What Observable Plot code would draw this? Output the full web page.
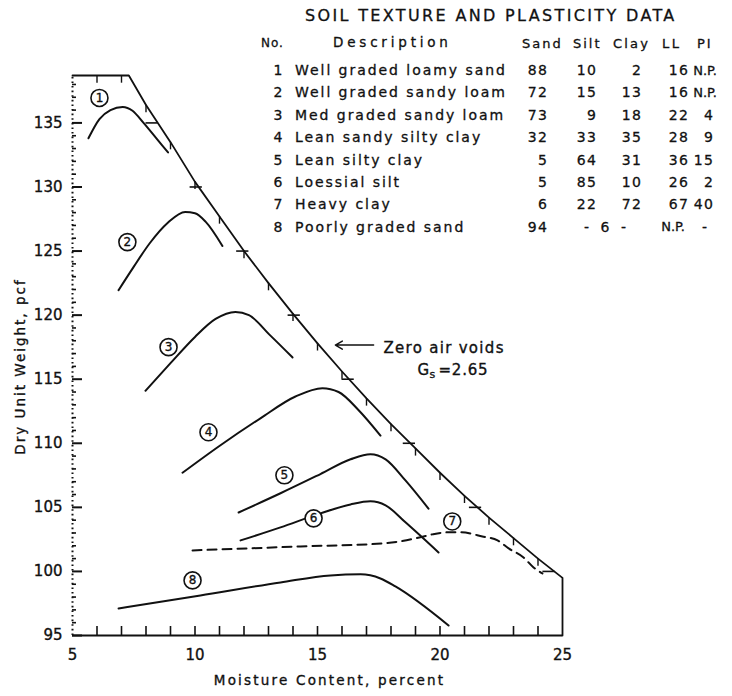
<!DOCTYPE html>
<html><head><meta charset="utf-8">
<script src="https://cdn.jsdelivr.net/npm/d3@7"></script>
<script src="https://cdn.jsdelivr.net/npm/@observablehq/plot@0.6"></script>
<style>
body{margin:0;background:#fff;}
#wrap{position:relative;width:732px;height:696px;overflow:hidden;font-family:"DejaVu Sans",sans-serif;color:#111;background:#fff;}
#wrap svg{position:absolute;left:0;top:0;}
#wrap svg text{stroke:#111;stroke-width:0.35px;}
.t{position:absolute;white-space:nowrap;line-height:1;-webkit-text-stroke:0.3px #111;}
</style></head><body><div id="wrap"></div>
<script>
// ---------- table data ----------
const tableTitle = "SOIL TEXTURE AND PLASTICITY DATA";
const tableHeaders = ["No.", "Description", "Sand", "Silt", "Clay", "LL", "PI"];
const soilNo = ["1", "2", "3", "4", "5", "6", "7", "8"];
const descriptions = ["Well graded loamy sand", "Well graded sandy loam", "Med graded sandy loam",
  "Lean sandy silty clay", "Lean silty clay", "Loessial silt", "Heavy clay", "Poorly graded sand"];
const sand = ["88", "72", "73", "32", "5", "5", "6", "94"];
const silt = ["10", "15", "9", "33", "64", "85", "22", "- 6 -"];
const clay = ["2", "13", "18", "35", "31", "10", "72", ""];
const liquidLimit = ["16", "16", "22", "28", "36", "26", "67", "N.P."];
const plasticityIndex = ["N.P.", "N.P.", "4", "9", "15", "2", "40", "-"];

// ---------- axes ----------
const xTickLabels = [5, 10, 15, 20, 25];
const xMinorTicks = [6, 7, 8, 9, 10, 11, 12, 13, 14, 15, 16, 17, 18, 19, 20, 21, 22, 23, 24];
const yTickLabels = [95, 100, 105, 110, 115, 120, 125, 130, 135];
const yMinorTicks = [96, 97, 98, 99, 101, 102, 103, 104, 106, 107, 108, 109, 111, 112, 113, 114,
  116, 117, 118, 119, 121, 122, 123, 124, 126, 127, 128, 129, 131, 132, 133, 134, 136, 137, 138];
const frameTop = 138.7;
const xTitle = "Moisture Content, percent";
const yTitle = "Dry Unit Weight, pcf";

// ---------- zero air voids (Gs = 2.65) ----------
const zavMoisture = [7.3, 8, 9, 10, 11, 12, 13, 14, 15, 16, 17, 18, 19, 20, 21, 22, 23, 24, 25];
const zavDensity = [138.7, 136.4, 133.5, 130.4, 127.7, 125.0, 122.5, 120.1, 117.8, 115.6, 113.5,
  111.5, 109.6, 107.7, 105.9, 104.2, 102.6, 101.0, 99.5];
const zavMarkDensity = [135, 130, 125, 120, 115, 110, 105, 100];
const zavMarkMoisture = [8.5, 10.3, 12.2, 14.3, 16.5, 19.0, 21.7, 24.7];
const topTickMoisture = [6, 7];

// ---------- compaction curves [moisture %, dry unit weight pcf] ----------
const curve1 = [[5.65,133.8],[6.1,135.3],[6.55,136.0],[7.05,136.25],[7.45,135.95],[7.9,135.0],[8.4,133.85],[8.9,132.7]];
const curve2 = [[6.88,121.95],[7.49,123.75],[8.16,125.63],[8.88,127.19],[9.6,128.05],[10.0,127.95],[10.43,127.3],[11.12,125.4]];
const curve3 = [[7.98,114.1],[9.0,116.25],[10.0,118.3],[10.84,119.7],[11.65,120.25],[12.2,120.0],[13.08,118.4],[13.98,116.7]];
const curve4 = [[9.49,107.7],[11.04,109.85],[12.67,111.95],[14.1,113.65],[15.2,114.3],[15.86,114.0],[16.67,112.6],[17.57,110.6]];
const curve5 = [[11.78,104.6],[13.49,106.1],[15.12,107.6],[16.35,108.75],[17.16,109.15],[17.78,108.75],[18.59,107.1],[19.53,104.9]];
const curve6 = [[11.86,102.42],[13.49,103.44],[15.12,104.53],[16.35,105.23],[17.16,105.47],[17.78,105.16],[18.59,103.83],[19.94,101.48]];
const curve7 = [[9.9,101.64],[14.31,101.95],[17.69,102.19],[19.2,102.66],[19.69,102.89],[20.31,103.05],[20.84,103.05],[21.73,102.73],[22.35,102.42],[22.8,101.8],[23.41,101.09],[23.82,100.31],[24.18,99.84]];
const curve8 = [[6.88,97.11],[10.22,98.13],[13.49,99.14],[15.53,99.69],[16.76,99.77],[17.57,99.45],[18.18,98.83],[20.35,95.78]];

// ---------- curve labels ----------
const labelNumber = ["1", "2", "3", "4", "5", "6", "7", "8"];
const labelMoisture = [6.1, 7.24, 8.92, 10.55, 13.65, 14.84, 20.5, 9.9];
const labelDensity = [136.95, 125.7, 117.5, 110.86, 107.5, 104.14, 103.9, 99.3];

// ---------- annotation ----------
const zavText = ["Zero air voids", "G", "s", "=2.65"];
const zavTextMoisture = [17.69, 19.08, 19.08, 19.08];
const zavTextDensity = [117.42, 115.7, 115.7, 115.7];
const zavArrow = {from: [17.29, 117.66], to: [15.73, 117.66]};

// ---------- build ----------
const toPts = (arr) => arr.map(([x, y]) => ({x, y}));
const boundary = [{x: 5, y: frameTop}, ...zavMoisture.map((x, i) => ({x, y: zavDensity[i]})), {x: 25, y: 95}];
const boundaryTicks = [
  ...topTickMoisture.map(x => ({x, y: frameTop})),
  ...zavMoisture.map((x, i) => ({x, y: zavDensity[i]})).filter(d => Number.isInteger(d.x) && d.x > 7 && d.x < 25)
];
const zavMarks = zavMarkDensity.map((y, i) => ({y, x: zavMarkMoisture[i]}));
const labels = labelNumber.map((n, i) => ({n, x: labelMoisture[i], y: labelDensity[i]}));
const solidCurves = [curve1, curve2, curve3, curve4, curve5, curve6, curve8];
const blank = () => "";

const chart = Plot.plot({
  width: 732, height: 696,
  marginLeft: 72, marginRight: 170, marginTop: 75, marginBottom: 61,
  x: {domain: [5, 25]},
  y: {domain: [95, frameTop]},
  style: "font-family:'DejaVu Sans',sans-serif;background:white;color:#111;",
  marks: [
    // dotted left axis with unit ticks
    Plot.ruleX([5], {y1: 95, y2: frameTop, strokeDasharray: "1.6,3", strokeWidth: 2}),
    Plot.axisY({ticks: yMinorTicks, tickSize: 4, dx: 4, tickFormat: blank, strokeWidth: 1.6, label: null}),
    Plot.axisY({ticks: yTickLabels, tickSize: 10, dx: 10, tickFormat: blank, strokeWidth: 2, label: null}),
    Plot.axisY({ticks: yTickLabels, tickSize: 0, tickPadding: 10, fontSize: 15, label: null}),
    // bottom axis
    Plot.ruleY([95], {x1: 5, x2: 25, strokeWidth: 2}),
    Plot.axisX({ticks: xMinorTicks, tickSize: 9, dy: -9, tickFormat: blank, strokeWidth: 1.6, label: null}),
    Plot.axisX({ticks: xTickLabels, tickSize: 0, tickPadding: 14, fontSize: 15, label: null}),
    // axis titles
    Plot.text([yTitle], {frameAnchor: "left", textAnchor: "middle", rotate: -90, dx: -52, dy: 11, fontSize: 13.5}),
    Plot.text([xTitle], {frameAnchor: "bottom", textAnchor: "middle", lineAnchor: "middle", dy: 45, dx: 12, fontSize: 13.5}),
    // zero air voids boundary
    Plot.line(boundary, {x: "x", y: "y", strokeWidth: 1.8}),
    Plot.ruleX(boundaryTicks, {x: "x", y1: "y", y2: d => d.y - 0.6, strokeWidth: 1.4}),
    Plot.ruleY(zavMarks, {y: "y", x1: d => d.x - 0.5, x2: "x", strokeWidth: 1.6}),
    // compaction curves
    ...solidCurves.map(c => Plot.line(toPts(c), {x: "x", y: "y", curve: "monotone-x", strokeWidth: 2})),
    Plot.line(toPts(curve7), {x: "x", y: "y", curve: "monotone-x", strokeWidth: 2, strokeDasharray: "9,6"}),
    // circled labels
    Plot.dot(labels, {x: "x", y: "y", r: 8.5, stroke: "#111", strokeWidth: 1.6, fill: "white"}),
    Plot.text(labels, {x: "x", y: "y", text: "n", fontSize: 12}),
    // annotation
    Plot.arrow([zavArrow], {x1: d => d.from[0], y1: d => d.from[1], x2: d => d.to[0], y2: d => d.to[1], headLength: 8, strokeWidth: 1.5}),
    Plot.text([0], {x: zavTextMoisture[0], y: zavTextDensity[0], text: () => zavText[0], textAnchor: "start", fontSize: 15}),
    Plot.text([0], {x: zavTextMoisture[1], y: zavTextDensity[1], text: () => zavText[1], textAnchor: "start", fontSize: 15}),
    Plot.text([0], {x: zavTextMoisture[2], y: zavTextDensity[2], text: () => zavText[2], textAnchor: "start", fontSize: 11, dx: 12, dy: 4}),
    Plot.text([0], {x: zavTextMoisture[3], y: zavTextDensity[3], text: () => zavText[3], textAnchor: "start", fontSize: 15, dx: 21})
  ]
});

// letter spacing for the lettered texts
const spacing = new Map([[yTitle, 2], [xTitle, 2.2], [zavText[0], 1.3], [zavText[3], 0.8]]);
d3.select(chart).selectAll("text").each(function () {
  const s = spacing.get(this.textContent);
  if (s) this.setAttribute("letter-spacing", s);
});

const wrap = d3.select("#wrap");
wrap.node().appendChild(chart);

function put(txt, x, yc, size, anchor, ls) {
  const d = wrap.append("div").attr("class", "t").text(txt)
    .style("font-size", size + "px").style("letter-spacing", ls + "px")
    .style("top", (yc - size / 2) + "px");
  if (anchor === "start") d.style("left", x + "px");
  else if (anchor === "end") d.style("right", (732 - x - ls) + "px");
  else d.style("left", (x + ls / 2) + "px").style("transform", "translateX(-50%)");
  return d;
}

// title + header
put(tableTitle, 305, 16, 16, "start", 2.35);
const headerX = [261, 333, 522, 573, 613, 662, 697];
const headerSize = [12, 13.5, 13, 13, 13, 13, 13];
const headerLs = [1, 3.8, 2, 2, 2.2, 2.5, 2];
tableHeaders.forEach((h, i) => put(h, headerX[i], 43, headerSize[i], "start", headerLs[i]));

// rows
const rowY = soilNo.map((_, i) => 70 + i * 22.4);
soilNo.forEach((n, i) => {
  const y = rowY[i];
  put(n, 278, y, 14, "middle", 0);
  put(descriptions[i], 295, y, 14, "start", 1.95);
  put(sand[i], 547, y, 14, "end", 1.5);
  if (clay[i] === "") {
    put(silt[i], 605, y, 14, "middle", 3.5);
  } else {
    put(silt[i], 596, y, 14, "end", 1.5);
    put(clay[i], 641, y, 14, "end", 1.5);
  }
  if (i === 7) put(liquidLimit[i], 685, y, 13, "end", 0);
  else put(liquidLimit[i], 688, y, 14, "end", 1.5);
  if (plasticityIndex[i] === "N.P.") put(plasticityIndex[i], 717, y, 13, "end", 0);
  else put(plasticityIndex[i], i === 7 ? 707 : 713, y, 14, "end", 1.5);
});
</script>
</body></html>
